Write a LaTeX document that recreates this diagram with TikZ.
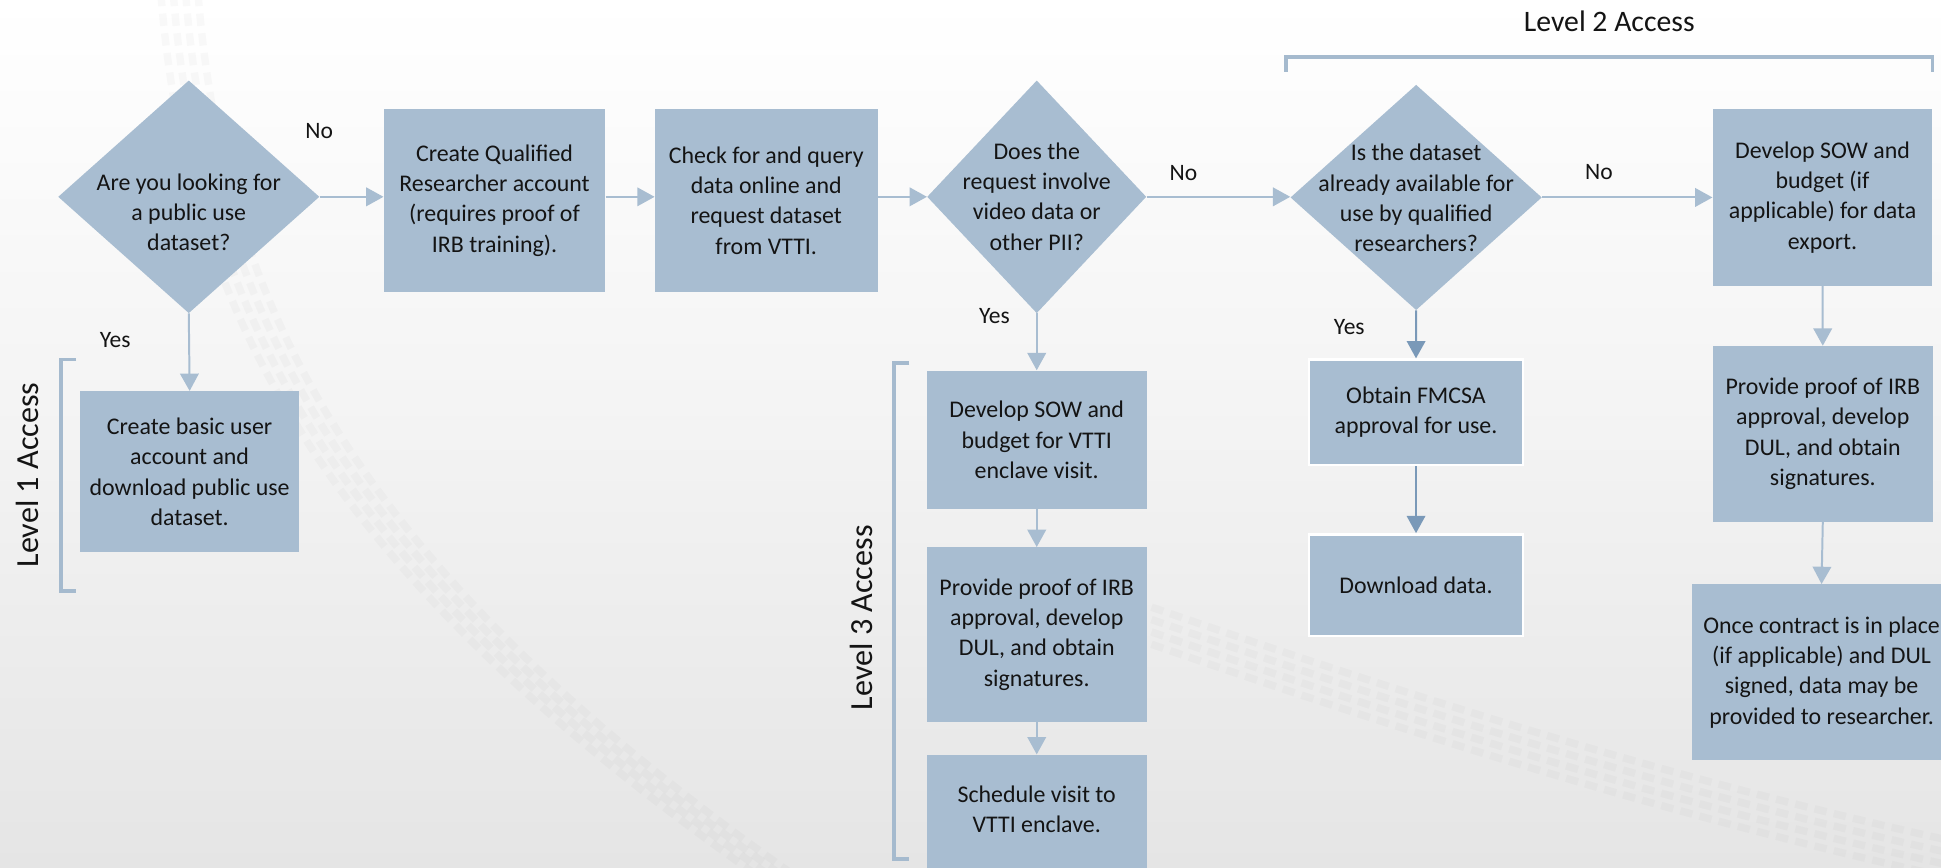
\documentclass[tikz,border=0pt]{standalone}
\usepackage{fontspec}
\setmainfont{Carlito}
\usetikzlibrary{shapes.geometric,arrows.meta}
\definecolor{boxfill}{RGB}{168,189,209}
\definecolor{darkarr}{RGB}{122,153,184}
\definecolor{brk}{RGB}{165,186,206}
\definecolor{txt}{RGB}{20,20,20}
\tikzset{
  box/.style={rectangle, fill=boxfill, draw=none, inner sep=0pt},
  wbox/.style={rectangle, fill=boxfill, draw=white, line width=2pt, inner sep=0pt},
  dia/.style={diamond, fill=boxfill, draw=none, inner sep=0pt},
  boxtext/.style={align=center, text=txt, font=\fontsize{19.3}{24.5}\selectfont},
  lbl/.style={text=txt, font=\fontsize{19}{23}\selectfont, inner sep=0pt},
  lvl/.style={text=txt, font=\fontsize{24}{28}\selectfont, inner sep=0pt},
  vlvl/.style={text=txt, font=\fontsize{26}{30}\selectfont, inner sep=0pt, rotate=90},
  arr/.style={draw=boxfill, line width=1.6pt, -{Triangle[length=14pt,width=15pt]}},
  darr/.style={draw=darkarr, line width=1.5pt, -{Triangle[length=14pt,width=15pt]}},
  bracket/.style={draw=brk, line width=3pt},
  track/.style={draw=gray, opacity=0.045, line width=6pt, dash pattern=on 10pt off 6pt}
}
\begin{document}
\begin{tikzpicture}[x=1pt,y=-1pt]
\useasboundingbox (0,0) rectangle (1568,701);
\clip (0,0) rectangle (1568,701);
% background
\fill[top color=white, bottom color={rgb,255:red,229;green,229;blue,229}, middle color={rgb,255:red,243;green,243;blue,243}] (0,0) rectangle (1568,701);
% faint tire tracks
\foreach \d in {0,10,20,30}{
  \draw[track] (130+\d,-5) .. controls (150+\d,250) and (260+\d,460) .. (610+\d,706);
  \draw[track] (900,480+\d) .. controls (1130,560+\d) and (1350,630+\d) .. (1580,680+\d);
}

% ---- nodes ----
\node[dia, minimum width=211pt, minimum height=188pt] (d1) at (152.5,159) {};
\node[boxtext] (d1t) at (152.5,171.6) {Are you looking for\\a public use\\dataset?};

\node[box, boxtext, minimum width=179pt, minimum height=148pt] (b2) at (399.5,162)
  {Create Qualified\\Researcher account\\(requires proof of\\IRB training).};
\node[box, boxtext, minimum width=180pt, minimum height=148pt] (b3) at (619,162)
  {Check for and query\\data online and\\request dataset\\from VTTI.};

\node[dia, minimum width=177pt, minimum height=188pt] (d2) at (837.5,159) {};
\node[boxtext] (d2t) at (837.5,158.8) {Does the\\request involve\\video data or\\other PII?};

\node[dia, minimum width=203pt, minimum height=182pt] (d3) at (1144,159.5) {};
\node[boxtext] (d3t) at (1144,160) {Is the dataset\\already available for\\use by qualified\\researchers?};

\node[box, boxtext, minimum width=177.5pt, minimum height=143pt] (r1) at (1472.3,159.5)
  {Develop SOW and\\budget (if\\applicable) for data\\export.};

\node[box, boxtext, minimum width=177pt, minimum height=130pt] (l1) at (153.2,381)
  {Create basic user\\account and\\download public use\\dataset.};

\node[box, boxtext, minimum width=178pt, minimum height=112pt] (v1) at (837.5,355.3)
  {Develop SOW and\\budget for VTTI\\enclave visit.};
\node[box, boxtext, minimum width=178pt, minimum height=141pt] (v2) at (837.5,512.6)
  {Provide proof of IRB\\approval, develop\\DUL, and obtain\\signatures.};
\node[box, minimum width=178pt, minimum height=120pt, anchor=north] (v3) at (837.5,609.4) {};
\node[boxtext] (v3t) at (837.5,653.5) {Schedule visit to\\VTTI enclave.};

\node[wbox, boxtext, minimum width=173pt, minimum height=85pt] (f1) at (1143.9,333)
  {Obtain FMCSA\\approval for use.};
\node[wbox, boxtext, minimum width=173pt, minimum height=82pt] (f2) at (1143.9,472.7)
  {Download data.};

\node[box, boxtext, minimum width=177.5pt, minimum height=142pt] (r2) at (1472.5,350.5)
  {Provide proof of IRB\\approval, develop\\DUL, and obtain\\signatures.};
\node[box, boxtext, minimum width=209pt, minimum height=142pt] (r3) at (1471.5,543)
  {Once contract is in place\\(if applicable) and DUL\\signed, data may be\\provided to researcher.};

% ---- connectors ----
\draw[arr] (d1.east) -- (d1.east -| b2.west);
\draw[arr] (b2.east |- d1.east) -- (b3.west |- d1.east);
\draw[arr] (b3.east |- d2.west) -- (d2.west);
\draw[arr] (d2.east) -- (d2.east -| d3.west);
\draw[arr] (d3.east) -- (d3.east -| r1.west);
\draw[arr] (d1.south) -- (l1.north);
\draw[arr] (d2.south) -- (v1.north);
\draw[arr] (v1.south) -- (v2.north);
\draw[arr] (v2.south) -- (v3.north);
\draw[darr] (d3.south) -- (f1.north);
\draw[darr] (f1.south) -- (f2.north);
\draw[arr] (r1.south) -- (r2.north);
\draw[arr] (r2.south) -- (r3.north);

% ---- branch labels ----
\node[lbl] (n1) at (257.8,105.6) {No};
\node[lbl] (y1) at (93,274.7) {Yes};
\node[lbl] (n2) at (956,139.5) {No};
\node[lbl] (y2) at (803.3,255.3) {Yes};
\node[lbl] (n3) at (1291.7,139) {No};
\node[lbl] (y3) at (1090,264) {Yes};

% ---- access level brackets ----
\coordinate (b1a) at (61.4,290.3);
\coordinate (b1b) at (49.3,290.3);
\coordinate (b1c) at (49.3,477.2);
\coordinate (b1d) at (61.4,477.2);
\draw[bracket] (b1a) -- (b1b) -- (b1c) -- (b1d);
\node[vlvl] (lv1) at (22,383.7) {Level 1 Access};

\coordinate (b2a) at (1039,57.9);
\coordinate (b2b) at (1039,46.3);
\coordinate (b2c) at (1561,46.3);
\coordinate (b2d) at (1561,57.9);
\draw[bracket] (b2a) -- (b2b) -- (b2c) -- (b2d);
\node[lvl] (lv2) at (1300,17.5) {Level 2 Access};

\coordinate (b3a) at (734.6,293.5);
\coordinate (b3b) at (722.2,293.5);
\coordinate (b3c) at (722.2,694);
\coordinate (b3d) at (734.6,694);
\draw[bracket] (b3a) -- (b3b) -- (b3c) -- (b3d);
\node[vlvl] (lv3) at (695.6,499) {Level 3 Access};
\end{tikzpicture}
\end{document}
